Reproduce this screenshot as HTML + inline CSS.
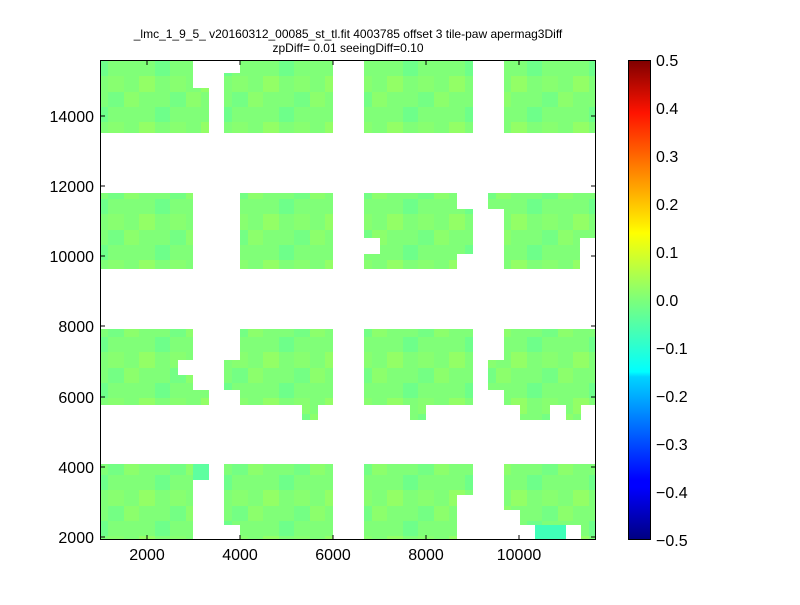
<!DOCTYPE html>
<html><head><meta charset="utf-8"><style>
body{margin:0;background:#fff;}
svg text{font-family:"Liberation Sans",sans-serif;}
</style></head><body>
<svg width="800" height="600" xmlns="http://www.w3.org/2000/svg">
<defs>
<linearGradient id="jet" x1="0" y1="1" x2="0" y2="0">
<stop offset="0" stop-color="#00007f"/>
<stop offset="0.11" stop-color="#0000ff"/>
<stop offset="0.125" stop-color="#0000ff"/>
<stop offset="0.34" stop-color="#00d4ff"/>
<stop offset="0.35" stop-color="#0ff"/>
<stop offset="0.5" stop-color="#7dff7a"/>
<stop offset="0.64" stop-color="#ff0"/>
<stop offset="0.66" stop-color="#ffea00"/>
<stop offset="0.89" stop-color="#ff1300"/>
<stop offset="1" stop-color="#7f0000"/>
</linearGradient>
<pattern id="tex" width="62" height="46" patternUnits="userSpaceOnUse">
<rect width="62" height="46" fill="#80ff78"/>
<rect x="0" y="0" width="15" height="15" fill="#8cff6c"/>
<rect x="31" y="15" width="15" height="15" fill="#6eff8a"/>
<rect x="15" y="30" width="16" height="16" fill="#93ff66"/>
<rect x="46" y="0" width="16" height="15" fill="#74ff84"/>
<rect x="46" y="30" width="16" height="16" fill="#88ff70"/>
</pattern>
</defs>
<text x="348" y="38" font-size="12" text-anchor="middle">_lmc_1_9_5_ v20160312_00085_st_tl.fit 4003785 offset 3 tile-paw apermag3Diff</text>
<text x="348" y="52" font-size="12" text-anchor="middle">zpDiff= 0.01 seeingDiff=0.10</text>
<g fill="url(#tex)">
<!-- top band -->
<rect x="100" y="60" width="93" height="73"/><rect x="193" y="88" width="16" height="45"/>
<rect x="224" y="73" width="16" height="60"/><rect x="240" y="60" width="93" height="73"/>
<rect x="364" y="60" width="109" height="73"/>
<rect x="504" y="60" width="92" height="73"/>
<!-- second band -->
<rect x="100" y="193" width="93" height="76"/>
<rect x="240" y="193" width="93" height="76"/>
<rect x="364" y="193" width="93" height="45"/><rect x="380" y="238" width="77" height="31"/><rect x="364" y="254" width="16" height="15"/>
<rect x="457" y="209" width="16" height="45"/>
<rect x="488" y="193" width="16" height="16"/>
<rect x="504" y="193" width="92" height="45"/><rect x="504" y="238" width="76" height="31"/>
<!-- third band -->
<rect x="100" y="329" width="93" height="31"/><rect x="100" y="360" width="78" height="45"/><rect x="178" y="375" width="15" height="30"/>
<rect x="193" y="390" width="16" height="15"/>
<rect x="240" y="329" width="93" height="76"/><rect x="224" y="360" width="16" height="30"/>
<rect x="302" y="405" width="16" height="15"/>
<rect x="364" y="329" width="109" height="76"/><rect x="410" y="405" width="16" height="15"/>
<rect x="488" y="360" width="16" height="30"/>
<rect x="504" y="329" width="92" height="76"/><rect x="520" y="405" width="30" height="15"/><rect x="566" y="405" width="15" height="15"/>
<!-- bottom band -->
<rect x="100" y="464" width="93" height="76"/><rect x="193" y="464" width="16" height="16" fill="#5effa0"/>
<rect x="224" y="464" width="16" height="61"/><rect x="240" y="464" width="93" height="76"/>
<rect x="364" y="464" width="93" height="76"/><rect x="457" y="464" width="16" height="31"/>
<rect x="504" y="464" width="92" height="46"/><rect x="520" y="510" width="76" height="15"/>
<rect x="535" y="525" width="31" height="15" fill="#40ffb8"/><rect x="581" y="525" width="15" height="15"/>
</g>
<rect x="100.5" y="60.5" width="495" height="479" fill="none" stroke="#000"/>
<g stroke="#000">
<line x1="147" y1="540" x2="147" y2="535"/><line x1="240" y1="540" x2="240" y2="535"/><line x1="333" y1="540" x2="333" y2="535"/><line x1="426" y1="540" x2="426" y2="535"/><line x1="519" y1="540" x2="519" y2="535"/>
<line x1="147" y1="60" x2="147" y2="65"/><line x1="240" y1="60" x2="240" y2="65"/><line x1="333" y1="60" x2="333" y2="65"/><line x1="426" y1="60" x2="426" y2="65"/><line x1="519" y1="60" x2="519" y2="65"/>
<line x1="100" y1="537" x2="105" y2="537"/><line x1="100" y1="467" x2="105" y2="467"/><line x1="100" y1="397" x2="105" y2="397"/><line x1="100" y1="326" x2="105" y2="326"/><line x1="100" y1="256" x2="105" y2="256"/><line x1="100" y1="186" x2="105" y2="186"/><line x1="100" y1="116" x2="105" y2="116"/>
<line x1="596" y1="537" x2="591" y2="537"/><line x1="596" y1="467" x2="591" y2="467"/><line x1="596" y1="397" x2="591" y2="397"/><line x1="596" y1="326" x2="591" y2="326"/><line x1="596" y1="256" x2="591" y2="256"/><line x1="596" y1="186" x2="591" y2="186"/><line x1="596" y1="116" x2="591" y2="116"/>
</g>
<g font-size="16" text-anchor="middle">
<text x="147" y="560">2000</text><text x="240" y="560">4000</text><text x="333" y="560">6000</text><text x="426" y="560">8000</text><text x="519" y="560">10000</text>
</g>
<g font-size="16" text-anchor="end">
<text x="94" y="543">2000</text><text x="94" y="473">4000</text><text x="94" y="403">6000</text><text x="94" y="332">8000</text><text x="94" y="262">10000</text><text x="94" y="192">12000</text><text x="94" y="122">14000</text>
</g>
<rect x="628" y="60" width="22" height="480" fill="url(#jet)"/>
<rect x="628.5" y="60.5" width="22" height="479" fill="none" stroke="#000"/>
<g font-size="16">
<text x="656" y="66">0.5</text><text x="656" y="114">0.4</text><text x="656" y="162">0.3</text><text x="656" y="210">0.2</text><text x="656" y="258">0.1</text><text x="656" y="306">0.0</text><text x="656" y="354">−0.1</text><text x="656" y="402">−0.2</text><text x="656" y="450">−0.3</text><text x="656" y="498">−0.4</text><text x="656" y="546">−0.5</text>
</g>
</svg>
</body></html>
